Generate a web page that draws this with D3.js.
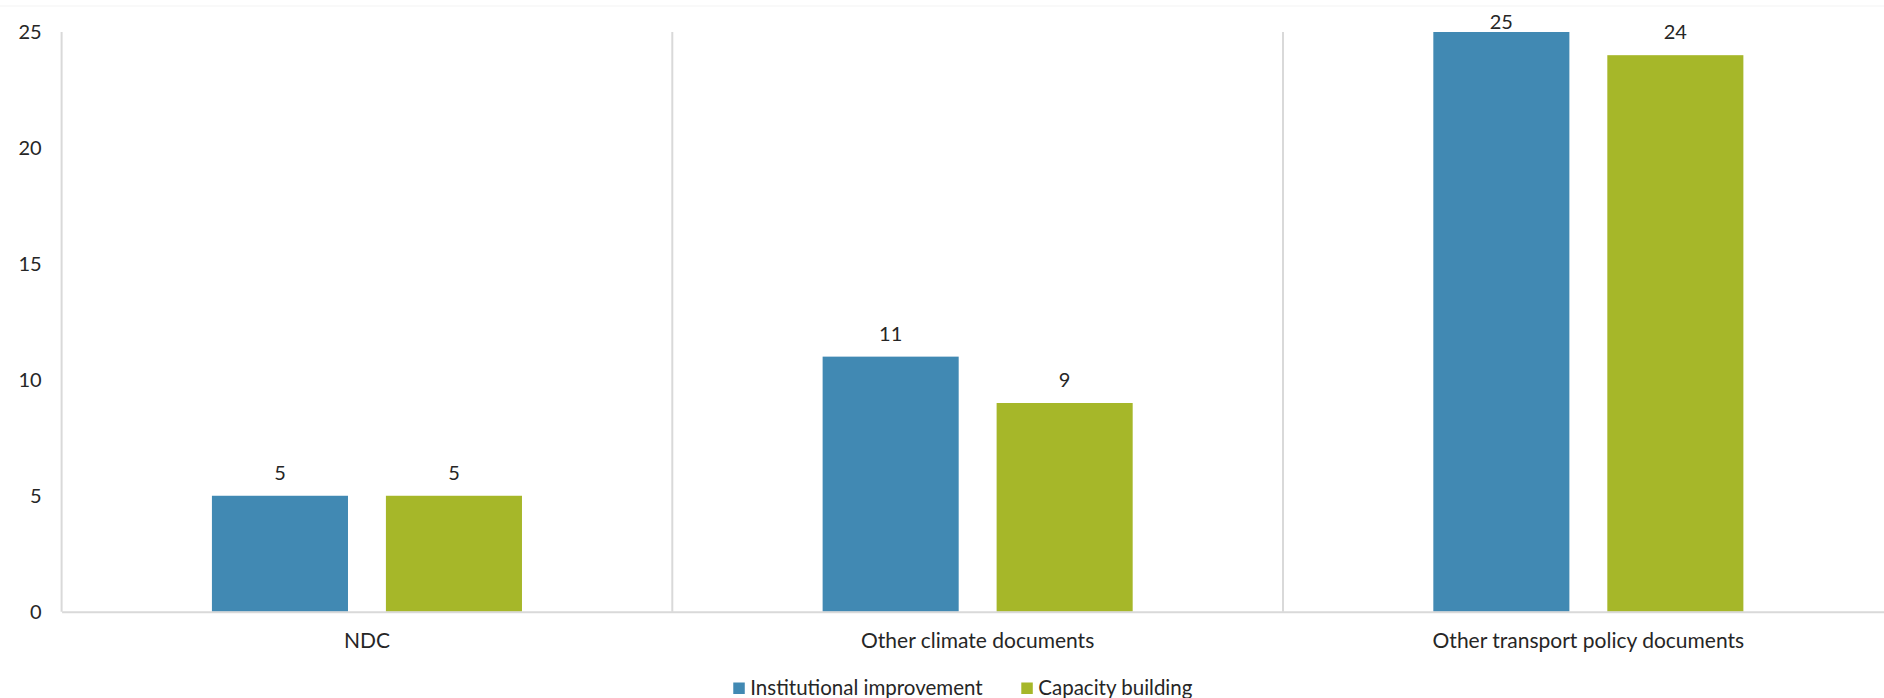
<!DOCTYPE html>
<html>
<head>
<meta charset="utf-8">
<script src="https://d3js.org/d3.v7.min.js"></script>
<style>
    body { margin: 0; background: #fff; }
    svg { display: block; font-family: Lato, "Open Sans", sans-serif; }
</style>
</head>
<body>
<svg width="1884" height="698"></svg>
<script>

    // chart data
    const categories = ["NDC", "Other climate documents", "Other transport policy documents"];
    const series = ["Institutional improvement", "Capacity building"];
    const institutional = [5, 11, 25];
    const capacity = [5, 9, 24];
    const yTicks = [0, 5, 10, 15, 20, 25];
    const colors = ["#4189b3", "#a6b729"];

    const svg = d3.select("svg");
    const plotLeft = 61.6, plotRight = 1893.7, plotTop = 32, plotBottom = 611.7;
    const textColor = "#262626";
    const gridColor = "#d9d9d9";

    const rows = categories.map((c, i) => ({
        category: c,
        values: [institutional[i], capacity[i]]
    }));

    const x0 = d3.scaleBand()
        .domain(categories)
        .range([plotLeft, plotRight])
        .padding(0);

    const x1 = d3.scaleBand()
        .domain(series)
        .range([0, x0.bandwidth()])
        .paddingInner(0.218)
        .paddingOuter(0.864);

    const y = d3.scaleLinear()
        .domain([0, 25])
        .range([plotBottom, plotTop]);

    // faint frame line at the top
    svg.append("line")
        .attr("x1", 0).attr("x2", 1884)
        .attr("y1", 6).attr("y2", 6)
        .attr("stroke", "#f3f3f3")
        .attr("stroke-width", 1);

    // category separators (left axis line included)
    svg.append("g")
        .selectAll("line")
        .data(categories)
        .join("line")
        .attr("x1", d => x0(d))
        .attr("x2", d => x0(d))
        .attr("y1", plotTop)
        .attr("y2", plotBottom)
        .attr("stroke", gridColor)
        .attr("stroke-width", 2);

    // y axis labels
    const yAxis = svg.append("g")
        .attr("transform", "translate(" + plotLeft + ",0)")
        .call(d3.axisLeft(y).tickValues(yTicks).tickSize(0).tickPadding(20));
    yAxis.select(".domain").remove();
    yAxis.selectAll("text")
        .attr("fill", textColor)
        .style("font-size", "20px")
        .style("font-family", "Lato, sans-serif");

    // bars
    const groups = svg.append("g")
        .selectAll("g")
        .data(rows)
        .join("g")
        .attr("transform", d => "translate(" + x0(d.category) + ",0)");

    const cells = groups.selectAll("g")
        .data(d => d.values.map((v, i) => ({key: series[i], value: v, idx: i})))
        .join("g");

    cells.append("rect")
        .attr("x", d => x1(d.key))
        .attr("y", d => y(d.value))
        .attr("width", x1.bandwidth())
        .attr("height", d => plotBottom - y(d.value))
        .attr("fill", d => colors[d.idx]);

    cells.append("text")
        .attr("x", d => x1(d.key) + x1.bandwidth() / 2)
        .attr("y", d => Math.max(y(d.value) - 16, 29))
        .attr("text-anchor", "middle")
        .attr("fill", textColor)
        .style("font-size", "20px")
        .text(d => d.value);

    // x axis baseline
    const xAxis = svg.append("g")
        .attr("transform", "translate(0," + plotBottom + ")")
        .call(d3.axisBottom(x0).tickSize(0).tickPadding(21));
    xAxis.select(".domain")
        .attr("stroke", gridColor)
        .attr("stroke-width", 2);
    xAxis.selectAll("text")
        .attr("fill", textColor)
        .style("font-size", "21px")
        .style("font-family", "Lato, sans-serif");

    // legend
    const legend = svg.append("g");
    const items = legend.selectAll("g")
        .data(series)
        .join("g");

    items.append("rect")
        .attr("width", 11.5)
        .attr("height", 11.5)
        .attr("y", 682.5)
        .attr("fill", (d, i) => colors[i]);

    items.append("text")
        .attr("x", 17)
        .attr("y", 695)
        .attr("fill", textColor)
        .style("font-size", "20.5px")
        .text(d => d);

    let offset = 0;
    items.each(function () {
        d3.select(this).attr("transform", "translate(" + offset + ",0)");
        offset += this.getBBox().width + 38;
    });
    const legendWidth = offset - 38;
    legend.attr("transform", "translate(" + (963 - legendWidth / 2) + ",0)");

</script>
</body>
</html>
